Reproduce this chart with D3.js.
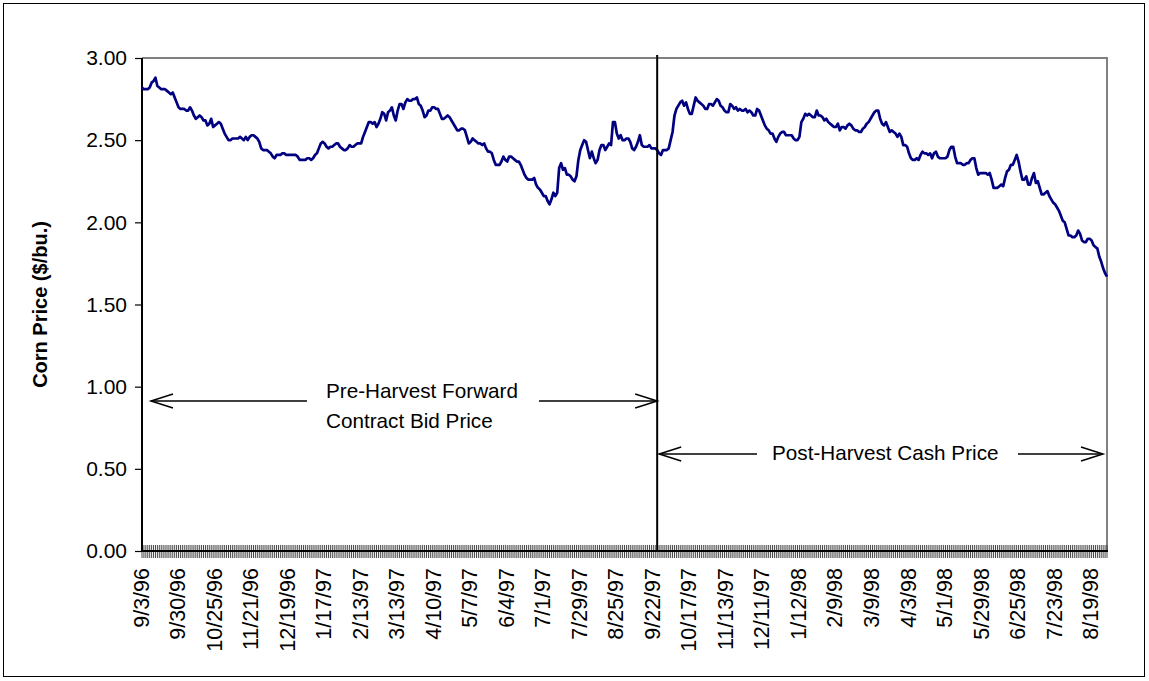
<!DOCTYPE html>
<html>
<head>
<meta charset="utf-8">
<script src="https://cdn.jsdelivr.net/npm/d3@7"></script>
<style>
  body { margin: 0; background: #fff; }
  text { font-family: Arial, "Liberation Sans", sans-serif; fill: #000; }
</style>
</head>
<body>
<svg id="chart" width="1149" height="681"></svg>
<script>
// daily corn price, 9/3/96 - 8/31/98 ($/bu.)
var prices = [
  2.82,2.81,2.81,2.81,2.82,2.85,2.86,2.88,2.83,2.82, 2.81,2.81,2.81,2.80,2.79,2.78,2.79,2.76,2.73,2.70,
  2.69,2.69,2.69,2.68,2.68,2.70,2.68,2.65,2.63,2.64, 2.65,2.64,2.62,2.62,2.59,2.60,2.63,2.58,2.59,2.60,
  2.61,2.60,2.57,2.54,2.52,2.50,2.50,2.51,2.51,2.51, 2.51,2.52,2.51,2.50,2.52,2.50,2.52,2.53,2.53,2.52,
  2.51,2.49,2.45,2.44,2.44,2.44,2.43,2.42,2.40,2.39, 2.41,2.41,2.41,2.42,2.42,2.41,2.41,2.41,2.41,2.41,
  2.41,2.40,2.38,2.38,2.38,2.38,2.39,2.39,2.38,2.39, 2.41,2.42,2.45,2.48,2.49,2.48,2.46,2.45,2.46,2.46,
  2.47,2.48,2.48,2.46,2.45,2.44,2.44,2.45,2.47,2.46, 2.46,2.47,2.48,2.48,2.48,2.52,2.55,2.58,2.61,2.61,
  2.60,2.61,2.58,2.60,2.63,2.67,2.66,2.62,2.67,2.68, 2.70,2.65,2.62,2.68,2.72,2.72,2.69,2.73,2.75,2.74,
  2.74,2.75,2.75,2.76,2.72,2.71,2.68,2.64,2.65,2.68, 2.68,2.70,2.70,2.69,2.69,2.66,2.63,2.63,2.64,2.65,
  2.64,2.62,2.60,2.58,2.56,2.56,2.57,2.57,2.56,2.52, 2.48,2.49,2.51,2.50,2.49,2.48,2.48,2.47,2.48,2.45,
  2.43,2.43,2.42,2.38,2.35,2.35,2.35,2.37,2.40,2.38, 2.37,2.40,2.40,2.39,2.38,2.37,2.37,2.35,2.32,2.29,
  2.27,2.26,2.26,2.26,2.27,2.23,2.21,2.20,2.18,2.16, 2.16,2.13,2.11,2.14,2.18,2.16,2.18,2.33,2.36,2.32,
  2.33,2.29,2.29,2.28,2.26,2.25,2.28,2.38,2.44,2.47, 2.50,2.49,2.44,2.39,2.43,2.39,2.36,2.38,2.44,2.47,
  2.47,2.44,2.46,2.48,2.47,2.61,2.61,2.54,2.51,2.53, 2.50,2.50,2.51,2.51,2.49,2.45,2.44,2.46,2.49,2.53,
  2.47,2.46,2.46,2.46,2.47,2.45,2.45,2.45,2.44,2.42, 2.41,2.44,2.44,2.44,2.45,2.50,2.55,2.65,2.69,2.71,
  2.73,2.74,2.71,2.73,2.69,2.66,2.66,2.71,2.76,2.74, 2.73,2.72,2.71,2.69,2.69,2.72,2.72,2.71,2.73,2.75,
  2.74,2.71,2.70,2.68,2.67,2.67,2.72,2.71,2.69,2.70, 2.68,2.69,2.68,2.68,2.69,2.67,2.68,2.67,2.65,2.65,
  2.69,2.68,2.65,2.62,2.59,2.57,2.56,2.54,2.54,2.51, 2.49,2.52,2.54,2.55,2.55,2.53,2.53,2.53,2.53,2.51,
  2.50,2.50,2.52,2.61,2.63,2.66,2.65,2.66,2.65,2.64, 2.64,2.68,2.65,2.65,2.64,2.62,2.63,2.61,2.60,2.59,
  2.58,2.58,2.60,2.56,2.58,2.58,2.57,2.59,2.60,2.59, 2.57,2.56,2.56,2.55,2.55,2.57,2.58,2.60,2.61,2.63,
  2.65,2.67,2.68,2.68,2.63,2.60,2.59,2.61,2.58,2.55, 2.56,2.55,2.54,2.52,2.54,2.52,2.47,2.47,2.46,2.42,
  2.39,2.38,2.38,2.39,2.38,2.41,2.43,2.42,2.42,2.41, 2.42,2.39,2.42,2.43,2.40,2.39,2.39,2.39,2.39,2.40,
  2.44,2.46,2.46,2.40,2.36,2.36,2.36,2.35,2.35,2.36, 2.36,2.38,2.39,2.39,2.33,2.29,2.30,2.30,2.30,2.30,
  2.29,2.30,2.26,2.21,2.21,2.21,2.22,2.23,2.22,2.27, 2.31,2.32,2.35,2.35,2.38,2.41,2.37,2.31,2.26,2.26,
  2.28,2.23,2.23,2.27,2.30,2.24,2.25,2.21,2.17,2.17, 2.18,2.19,2.16,2.14,2.12,2.11,2.09,2.07,2.04,2.01,
  2.00,1.96,1.92,1.92,1.91,1.91,1.92,1.95,1.93,1.89, 1.88,1.88,1.90,1.90,1.89,1.86,1.85,1.84,1.79,1.76,
  1.72,1.69,1.67
];

var tickLabels = ["9/3/96","9/30/96","10/25/96","11/21/96","12/19/96","1/17/97","2/13/97",
  "3/13/97","4/10/97","5/7/97","6/4/97","7/1/97","7/29/97","8/25/97","9/22/97","10/17/97",
  "11/13/97","12/11/97","1/12/98","2/9/98","3/9/98","4/3/98","5/1/98","5/29/98","6/25/98",
  "7/23/98","8/19/98"];
var labelStep = 19;          // trading days between labels
var harvestIndex = 268;      // split between forward bid and cash price
var yTicks = [0, 0.5, 1, 1.5, 2, 2.5, 3];

var svg = d3.select("#chart");
var pLeft = 142, pRight = 1107, pTop = 58, pBottom = 551;

var x = d3.scaleLinear().domain([0, prices.length - 1]).range([pLeft, pRight]);
var y = d3.scaleLinear().domain([0, 3]).range([pBottom, pTop]);

// outer frame
svg.append("rect")
  .attr("x", 3.5).attr("y", 3.5)
  .attr("width", 1141).attr("height", 673)
  .attr("fill", "none").attr("stroke", "#000").attr("stroke-width", 1);

// plot frame (top/right gray)
svg.append("path")
  .attr("d", "M" + pLeft + "," + pTop + "H" + pRight + "V" + pBottom)
  .attr("fill", "none").attr("stroke", "#808080").attr("stroke-width", 2);

// dense category ticks
svg.append("g").selectAll("line")
  .data(prices)
  .join("line")
  .attr("x1", function(d, i) { return x(i); })
  .attr("x2", function(d, i) { return x(i); })
  .attr("y1", pBottom - 6)
  .attr("y2", pBottom + 7)
  .attr("stroke", "#333")
  .attr("stroke-width", 0.9);

// y axis
var yAxis = d3.axisLeft(y)
  .tickValues(yTicks)
  .tickFormat(d3.format(".2f"))
  .tickSize(7)
  .tickPadding(8);

var gy = svg.append("g")
  .attr("transform", "translate(" + pLeft + ",0)")
  .call(yAxis);
gy.select(".domain").remove();
gy.selectAll(".tick line").attr("stroke", "#000").attr("stroke-width", 1.2);
gy.selectAll(".tick text")
  .style("font-size", "21px")
  .style("font-family", "Arial, 'Liberation Sans', sans-serif")
  .attr("fill", "#000");

// axis lines
svg.append("line")
  .attr("x1", pLeft).attr("x2", pLeft)
  .attr("y1", pTop).attr("y2", pBottom + 1)
  .attr("stroke", "#000").attr("stroke-width", 2);
svg.append("line")
  .attr("x1", pLeft).attr("x2", pRight + 1)
  .attr("y1", pBottom).attr("y2", pBottom)
  .attr("stroke", "#000").attr("stroke-width", 2);

// x labels
svg.append("g").selectAll("text")
  .data(tickLabels)
  .join("text")
  .attr("transform", function(d, i) {
    return "translate(" + (x(i * labelStep) - 1) + "," + (pBottom + 17) + ")rotate(-90)";
  })
  .attr("dy", "0.35em")
  .attr("text-anchor", "end")
  .style("font-size", "21.5px")
  .text(function(d) { return d; });

// y title
svg.append("text")
  .attr("transform", "translate(40," + y(1.5) + ")rotate(-90)")
  .attr("dy", "0.35em")
  .attr("text-anchor", "middle")
  .style("font-size", "20px")
  .style("font-weight", "bold")
  .text("Corn Price ($/bu.)");

// price line
var line = d3.line()
  .x(function(d, i) { return x(i); })
  .y(function(d) { return y(d); });

svg.append("path")
  .datum(prices)
  .attr("d", line)
  .attr("fill", "none")
  .attr("stroke", "#000080")
  .attr("stroke-width", 2.7)
  .attr("stroke-linejoin", "round");

// harvest divider
svg.append("line")
  .attr("x1", x(harvestIndex)).attr("x2", x(harvestIndex))
  .attr("y1", pTop - 3).attr("y2", pBottom)
  .attr("stroke", "#000").attr("stroke-width", 2);

// annotations
function arrow(x1, x2, yy, head) {
  svg.append("line")
    .attr("x1", x1).attr("x2", x2).attr("y1", yy).attr("y2", yy)
    .attr("stroke", "#000").attr("stroke-width", 1.5);
  var tip = head === "left" ? x1 : x2;
  var dir = head === "left" ? 1 : -1;
  svg.append("path")
    .attr("d", "M" + (tip + dir * 22) + "," + (yy - 7) + "L" + tip + "," + yy + "L" + (tip + dir * 22) + "," + (yy + 7))
    .attr("fill", "none").attr("stroke", "#000").attr("stroke-width", 1.5);
}

var preY = 401, postY = 454;
arrow(x(0) + 9, 307, preY, "left");
arrow(539, x(harvestIndex), preY, "right");
arrow(x(harvestIndex) + 2, 757, postY, "left");
arrow(1018, pRight - 4, postY, "right");

var ann = svg.append("text")
  .attr("x", 326).attr("y", 398)
  .style("font-size", "20.7px");
ann.append("tspan").attr("x", 326).text("Pre-Harvest Forward");
ann.append("tspan").attr("x", 326).attr("dy", 30).text("Contract Bid Price");

svg.append("text")
  .attr("x", 772).attr("y", 460)
  .style("font-size", "20.7px")
  .text("Post-Harvest Cash Price");
</script>
</body>
</html>
